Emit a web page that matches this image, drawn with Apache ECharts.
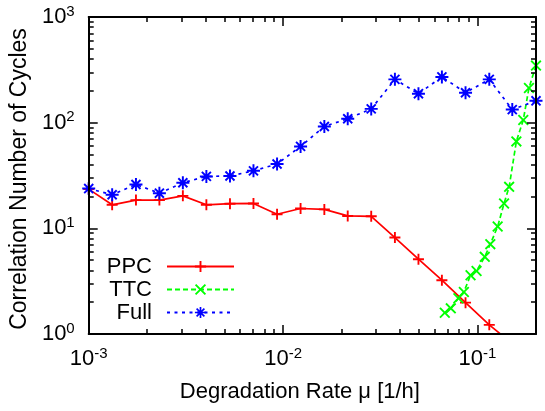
<!DOCTYPE html>
<html>
<head>
<meta charset="utf-8">
<script src="https://cdn.jsdelivr.net/npm/echarts@6/dist/echarts.min.js"></script>
<style>
html,body{margin:0;padding:0;background:#fff;}
#c{width:545px;height:411px;}
</style>
</head>
<body>
<div id="c"></div>
<script>
// ---- data ----
const rateValues = [0.00100, 0.00132, 0.00175, 0.00231, 0.00305, 0.00403, 0.00533, 0.00704, 0.00931, 0.0123,
                    0.0163, 0.0215, 0.0284, 0.0376, 0.0497, 0.0656, 0.0868, 0.115, 0.151, 0.200];
const ppcValues  = [23.5, 16.7, 18.5, 18.5, 20.3, 16.7, 17.1, 17.2, 13.6, 15.4,
                    15.1, 13.1, 13.0, 8.18, 5.1, 3.23, 1.98, 1.22, 0.81];
const fullValues = [23.8, 20.8, 26.0, 21.5, 27.0, 31.0, 31.3, 35.0, 40.6, 59.6,
                    92.0, 109, 135, 257, 188, 271, 192, 257, 133, 161];
const ttcRates   = [0.0679, 0.0729, 0.0798, 0.0851, 0.0921, 0.0989, 0.109, 0.1164, 0.127, 0.137,
                    0.1455, 0.1585, 0.172, 0.184, 0.200];
const ttcValues  = [1.59, 1.75, 2.18, 2.50, 3.60, 3.95, 5.37, 7.08, 10.4, 17.2,
                    24.7, 66.5, 106, 213, 347];
const seriesNames = ['PPC', 'TTC', 'Full'];

// ---- tick values and labels ----
const xMajorTicks = [0.001, 0.01, 0.1];
const xTickExponents = ['-3', '-2', '-1'];
const xMinorTicks = [0.002, 0.003, 0.004, 0.005, 0.006, 0.007, 0.008, 0.009,
                     0.02, 0.03, 0.04, 0.05, 0.06, 0.07, 0.08, 0.09];
const yMajorTicks = [1, 10, 100, 1000];
const yTickExponents = ['0', '1', '2', '3'];
const yMinorTicks = [2, 3, 4, 5, 6, 7, 8, 9, 20, 30, 40, 50, 60, 70, 80, 90,
                     200, 300, 400, 500, 600, 700, 800, 900];
const xRange = [0.001, 0.2];
const yRange = [1, 1000];
const xTitle = 'Degradation Rate μ [1/h]';
const yTitle = 'Correlation Number of Cycles';

// ---- styles ----
const FONT = '"Liberation Sans", Arial, Helvetica, sans-serif';
const colors = ['#ff0000', '#00ff00', '#0000ff'];
const PLUS = 'path://M8.3,0H11.7V8.3H20V11.7H11.7V20H8.3V11.7H0V8.3H8.3Z';
const CROSS = 'path://M0,2.4L2.4,0L10,7.6L17.6,0L20,2.4L12.4,10L20,17.6L17.6,20L10,12.4L2.4,20L0,17.6L7.6,10Z';
const STAR = 'path://M8.5,0H11.5V8.5H20V11.5H11.5V20H8.5V11.5H0V8.5H8.5Z' +
             'M2,4.1L4.1,2L10,7.9L15.9,2L18,4.1L12.1,10L18,15.9L15.9,18L10,12.1L4.1,18L2,15.9L7.9,10Z';

const rich = {
  b: {fontSize: 22, fontFamily: FONT, color: '#000', lineHeight: 26},
  s: {fontSize: 15, fontFamily: FONT, color: '#000', lineHeight: 14, verticalAlign: 'top'}
};

function makeAxis(kind, position, ticks, tickLen, opts) {
  const isMajorLabelled = opts.labels;
  const range = kind === 'x' ? xRange : yRange;
  const ax = {
    type: 'log', logBase: 10, min: range[0], max: range[1], position: position,
    axisLine: {show: opts.line, onZero: false, lineStyle: {color: '#000', width: 2}},
    axisTick: {show: true, inside: true, length: tickLen, customValues: ticks,
               lineStyle: {color: '#000', width: 1.5}},
    axisLabel: {show: !!isMajorLabelled},
    splitLine: {show: false},
    minorTick: {show: false},
    z: 5
  };
  if (isMajorLabelled) {
    const exps = kind === 'x' ? xTickExponents : yTickExponents;
    ax.axisLabel = {
      show: true, customValues: ticks, margin: kind === 'x' ? 12 : 14,
      formatter: function (v) {
        let i = ticks.findIndex(t => Math.abs(Math.log10(t) - Math.log10(v)) < 1e-6);
        return '{b|10}{s|' + exps[i] + '}';
      },
      rich: rich
    };
  }
  return ax;
}

const xAxes = [
  Object.assign(makeAxis('x', 'bottom', xMajorTicks, 9, {line: true, labels: true}), {
    name: xTitle, nameLocation: 'middle', nameGap: 47,
    nameTextStyle: {fontSize: 22, fontFamily: FONT, color: '#000', padding: [0, 25, 0, 0]}
  }),
  makeAxis('x', 'bottom', xMinorTicks, 5, {line: false}),
  makeAxis('x', 'top', xMajorTicks, 9, {line: true}),
  makeAxis('x', 'top', xMinorTicks, 5, {line: false})
];
const yAxes = [
  Object.assign(makeAxis('y', 'left', yMajorTicks, 9, {line: true, labels: true}), {
    name: yTitle, nameLocation: 'middle', nameGap: 56,
    nameTextStyle: {fontSize: 23, fontFamily: FONT, color: '#000', padding: [0, 7, 0, 0]}
  }),
  makeAxis('y', 'left', yMinorTicks, 5, {line: false}),
  makeAxis('y', 'right', yMajorTicks, 9, {line: true}),
  makeAxis('y', 'right', yMinorTicks, 5, {line: false})
];

function pairs(xs, ys) { return ys.map((y, i) => [xs[i], y]); }

const chart = echarts.init(document.getElementById('c'), null, {renderer: 'canvas'});
chart.setOption({
  animation: false,
  backgroundColor: '#fff',
  grid: {left: 83, right: 9, top: 17, bottom: 77, containLabel: false},
  xAxis: xAxes,
  yAxis: yAxes,
  legend: {
    orient: 'vertical', align: 'right', right: 310, top: 255, padding: 0,
    itemWidth: 67, itemHeight: 14, itemGap: 0,
    textStyle: {fontSize: 22, fontFamily: FONT, color: '#000', lineHeight: 23, padding: [0, 10, 0, 0]},
    data: seriesNames
  },
  series: [
    {name: seriesNames[0], type: 'line', data: pairs(rateValues, ppcValues),
     symbol: PLUS, symbolSize: 11, color: colors[0],
     lineStyle: {width: 1.7, color: colors[0], type: 'solid'}, itemStyle: {color: colors[0]}, z: 3},
    {name: seriesNames[1], type: 'line', data: pairs(ttcRates, ttcValues),
     symbol: CROSS, symbolSize: 11, color: colors[1],
     lineStyle: {width: 1.7, color: colors[1], type: [5, 3]}, itemStyle: {color: colors[1]}, z: 3},
    {name: seriesNames[2], type: 'line', data: pairs(rateValues, fullValues),
     symbol: STAR, symbolSize: 13, color: colors[2],
     lineStyle: {width: 1.7, color: colors[2], type: [3, 4.5]}, itemStyle: {color: colors[2]}, z: 3}
  ]
});
</script>
</body>
</html>
